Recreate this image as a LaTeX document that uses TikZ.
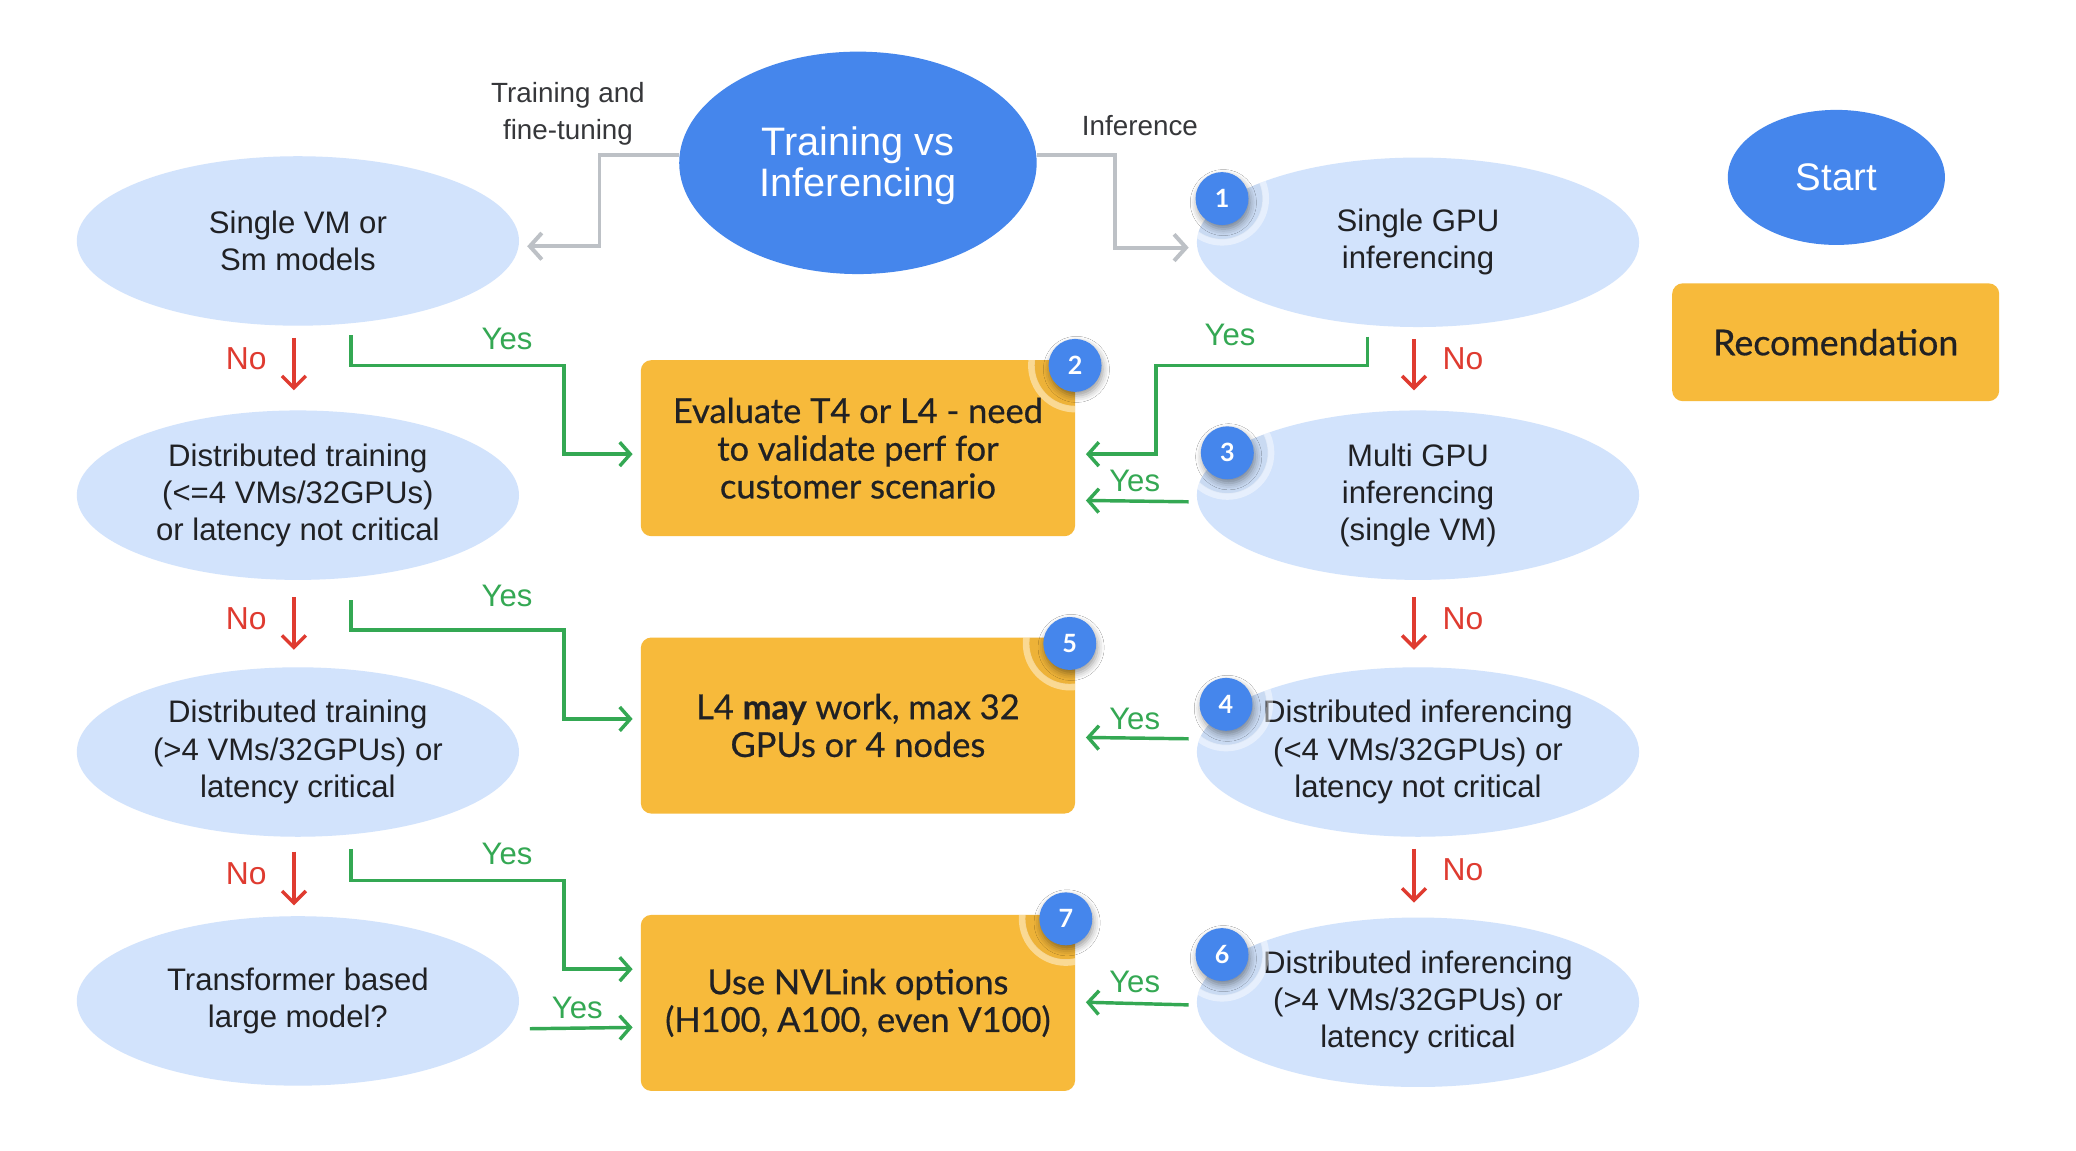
\documentclass[tikz,border=0pt]{standalone}
\usepackage{fontspec}
\usetikzlibrary{shapes.geometric,arrows.meta,calc,shadows.blur}
\setmainfont{Liberation Sans}
\newfontfamily\boxfont[FakeBold=0.6]{Lato}
\newfontfamily\badgefont{Lato}
\definecolor{gblue}{HTML}{4586EC}
\definecolor{lblue}{HTML}{D2E3FC}
\definecolor{gorange}{HTML}{F7BA3B}
\definecolor{ggreen}{HTML}{34A853}
\definecolor{gred}{HTML}{DF3B30}
\definecolor{ggrey}{HTML}{BDC1C6}
\definecolor{gtext}{HTML}{202124}
\newcommand\haloring[2]{\begin{scope}\clip #2;\fill[black,opacity=0.04] #1 circle[radius=31pt];\draw[white,opacity=0.45,line width=5pt] #1 circle[radius=33pt];\end{scope}}
\begin{document}
\begin{tikzpicture}[x=1pt,y=-1pt,
  q/.style={ellipse, fill=lblue, minimum width=334pt, minimum height=128pt, inner sep=0pt, align=center, text=gtext, font=\fontsize{23.5}{28}\selectfont},
  rec/.style={rectangle, rounded corners=8pt, fill=gorange, minimum width=328pt, minimum height=133pt, inner sep=0pt, align=center, text=gtext, font=\boxfont\fontsize{26}{28.5}\selectfont},
  startnode/.style={ellipse, fill=gblue, text=white, inner sep=0pt, align=center, font=\fontsize{30}{31}\selectfont},
  badge/.style={circle, fill=gblue, minimum size=40pt, inner sep=0pt, text=white, font=\badgefont\bfseries\fontsize{19}{19}\selectfont, blur shadow={shadow blur radius=5pt, shadow xshift=1pt, shadow yshift=-3pt}},
  yes/.style={draw=ggreen, line width=2.6pt, -{Straight Barb[length=8pt,width=18pt]}},
  no/.style={draw=gred, line width=2.6pt, -{Straight Barb[length=9pt,width=18pt]}},
  greyarr/.style={draw=ggrey, line width=3pt, -{Straight Barb[length=9pt,width=20pt]}},
  yeslab/.style={text=ggreen, font=\fontsize{23.5}{23.5}\selectfont, inner sep=0pt},
  nolab/.style={text=gred, font=\fontsize{24}{24}\selectfont, inner sep=0pt},
  toplab/.style={text=gtext!90, font=\fontsize{21}{28}\selectfont, align=center, inner sep=0pt}
]
\fill[white] (0,0) rectangle (1568,869);
\useasboundingbox (0,0) rectangle (1568,869);

% main nodes
\node[startnode, minimum width=270pt, minimum height=168pt] (T) at (648,123) {};
\node[text=white, align=center, font=\fontsize{30}{31}\selectfont, inner sep=0pt] (Tt) at (648,125) {Training vs\\Inferencing};
\node[q] (E1) at (225,182) {Single VM or\\Sm models};
\node[q] (E2) at (225,374) {Distributed training\\(<=4 VMs/32GPUs)\\or latency not critical};
\node[q] (E3) at (225,568) {Distributed training\\(>4 VMs/32GPUs) or\\latency critical};
\node[q] (E4) at (225,756) {Transformer based\\large model?};
\node[q] (R1) at (1071,183) {Single GPU\\inferencing};
\node[q] (R2) at (1071,374) {Multi GPU\\inferencing\\(single VM)};
\node[q] (R3) at (1071,568) {Distributed inferencing\\(<4 VMs/32GPUs) or\\latency not critical};
\node[q] (R4) at (1071,757) {Distributed inferencing\\(>4 VMs/32GPUs) or\\latency critical};
\node[rec] (B1) at (648,338.5) {Evaluate T4 or L4 - need\\to validate perf for\\customer scenario};
\node[rec] (B2) at (648,548) {L4 {\bfseries may} work, max 32\\GPUs or 4 nodes};
\node[rec] (B3) at (648,757.5) {Use NVLink options\\(H100, A100, even V100)};

% legend
\node[startnode, minimum width=164pt, minimum height=102pt, font=\fontsize{29}{30}\selectfont] (S) at (1387,134) {Start};
\node[rec, minimum width=247pt, minimum height=89pt, font=\boxfont\fontsize{27}{28}\selectfont] (L) at (1386.5,258.5) {Recomendation};

% top labels
\node[toplab] (lt) at (429,86) {Training and\\fine-tuning};
\node[toplab] (li) at (861,95) {Inference};

% grey connectors
\draw[greyarr] ([yshift=6pt]T.west) -- ++(-60,0) |- ([xshift=6pt,yshift=-4pt]E1.east);
\draw[greyarr] ([yshift=6pt]T.east) -- ++(59,0) |- ([xshift=-6pt,yshift=-4pt]R1.west);

% yes connectors
\draw[yes] ([xshift=40pt,yshift=-7pt]E1.south) |- (426,276) |- ([xshift=-6pt,yshift=-4.5pt]B1.west);
\draw[yes] ([xshift=40pt,yshift=-15pt]E2.south) |- (426,476) |- ([xshift=-6pt,yshift=5pt]B2.west);
\draw[yes] ([xshift=40pt,yshift=-9pt]E3.south) |- (426,665) |- ([xshift=-6pt,yshift=25.5pt]B3.west);
\draw[yes] ([xshift=8pt,yshift=-21pt]E4.east) -- ([xshift=-6pt,yshift=-18.5pt]B3.west);
\draw[yes] ([xshift=-38pt,yshift=-7pt]R1.south) |- (873,276) |- ([xshift=8pt,yshift=-4.5pt]B1.east);
\draw[yes] ([xshift=-6pt,yshift=-5pt]R2.west) -- ([xshift=8pt,yshift=-39.5pt]B1.east);
\draw[yes] ([xshift=-6pt,yshift=10pt]R3.west) -- ([xshift=8pt,yshift=-9pt]B2.east);
\draw[yes] ([xshift=-6pt,yshift=-2pt]R4.west) -- ([xshift=8pt,yshift=0.5pt]B3.east);

% no connectors
\draw[no] ([xshift=-3pt,yshift=-9pt]E1.south) -- ([xshift=-3pt,yshift=15pt]E2.north);
\draw[no] ([xshift=-3pt,yshift=-13pt]E2.south) -- ([xshift=-3pt,yshift=13pt]E3.north);
\draw[no] ([xshift=-3pt,yshift=-11pt]E3.south) -- ([xshift=-3pt,yshift=8pt]E4.north);
\draw[no] ([xshift=-3pt,yshift=-9pt]R1.south) -- ([xshift=-3pt,yshift=15pt]R2.north);
\draw[no] ([xshift=-3pt,yshift=-13pt]R2.south) -- ([xshift=-3pt,yshift=13pt]R3.north);
\draw[no] ([xshift=-3pt,yshift=-9pt]R3.south) -- ([xshift=-3pt,yshift=11pt]R4.north);

% labels
\node[yeslab] (y1) at (383,256) {Yes};
\node[yeslab] (y2) at (383,450) {Yes};
\node[yeslab] (y3) at (383,645) {Yes};
\node[yeslab] (y4) at (436,761) {Yes};
\node[yeslab] (y5) at (929,253) {Yes};
\node[yeslab] (y6) at (857,363) {Yes};
\node[yeslab] (y7) at (857,543) {Yes};
\node[yeslab] (y8) at (857,742) {Yes};
\node[nolab] (n1) at (186,271) {No};
\node[nolab] (n2) at (186,467) {No};
\node[nolab] (n3) at (186,660) {No};
\node[nolab] (n4) at (1105,271) {No};
\node[nolab] (n5) at (1105,467) {No};
\node[nolab] (n6) at (1105,657) {No};

% halos
\haloring{(923,150)}{(1071,183) ellipse[x radius=167pt,y radius=64pt]}
\haloring{(927,342)}{(1071,374) ellipse[x radius=167pt,y radius=64pt]}
\haloring{(926,532)}{(1071,568) ellipse[x radius=167pt,y radius=64pt]}
\haloring{(923,721)}{(1071,757) ellipse[x radius=167pt,y radius=64pt]}
\haloring{(812,276)}{[rounded corners=8pt] (484,272) rectangle (812,405)}
\haloring{(808,486)}{[rounded corners=8pt] (484,481.5) rectangle (812,614.5)}
\haloring{(805,694)}{[rounded corners=8pt] (484,691) rectangle (812,824)}

% badges
\node[badge] (k1) at (923,150) {1};
\node[badge] (k2) at (812,276) {2};
\node[badge] (k3) at (927,342) {3};
\node[badge] (k4) at (926,532) {4};
\node[badge] (k5) at (808,486) {5};
\node[badge] (k6) at (923,721) {6};
\node[badge] (k7) at (805,694) {7};
\end{tikzpicture}
\end{document}
